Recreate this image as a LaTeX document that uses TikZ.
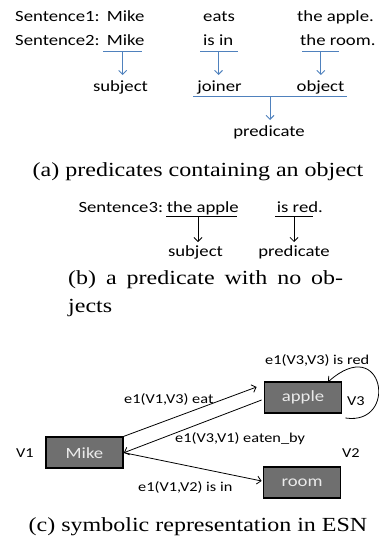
\documentclass[tikz,border=0pt]{standalone}
\usepackage{fontspec}
\usetikzlibrary{arrows.meta}
\newfontfamily\calfont[FakeStretch=1.2]{Carlito}
\newfontfamily\capfont[FakeStretch=1.2]{Liberation Serif}
\definecolor{officeblue}{HTML}{4F81BD}
\definecolor{boxgray}{HTML}{6F6F6F}
\tikzset{
  word/.style={inner sep=0pt, font=\calfont\fontsize{15.6}{18}\selectfont},
  lbl/.style={inner sep=0pt, font=\calfont\fontsize{13.6}{16}\selectfont},
  capt/.style={inner sep=0pt, font=\capfont\fontsize{20}{24}\selectfont},
  bluebar/.style={draw=officeblue, line width=0.9pt},
  bluearrow/.style={draw=officeblue, line width=0.9pt, -{Straight Barb[length=4pt,width=8pt]}},
  blackbar/.style={draw=black, line width=0.8pt},
  blackarrow/.style={draw=black, line width=0.8pt, -{Straight Barb[length=4pt,width=8pt]}},
  entity/.style={draw=black, line width=1.8pt, fill=boxgray, minimum width=77pt, minimum height=31pt,
    inner sep=0pt, text=white!92!black, font=\calfont\fontsize{15.6}{18}\selectfont},
}
\begin{document}
\begin{tikzpicture}[x=1pt, y=-1pt]
\useasboundingbox (0,0) rectangle (378,546);

% ---------- (a) predicates containing an object ----------
\node[word, anchor=base west] (s1) at (15,21.7) {Sentence1:};
\node[word, anchor=base west] (s1a) at (106.7,21.7) {Mike};
\node[word, anchor=base west] (s1b) at (203,21.7) {eats};
\node[word, anchor=base west] (s1c) at (297,21.7) {the apple.};
\node[word, anchor=base west] (s2) at (15,45) {Sentence2:};
\node[word, anchor=base west] (s2a) at (106.7,45) {Mike};
\node[word, anchor=base west] (s2b) at (203,45) {is in};
\node[word, anchor=base west] (s2c) at (300,45) {the room.};

\coordinate (ba1) at (103,51);  \coordinate (ba2) at (142,51);  \coordinate (bam) at (122.7,51);
\coordinate (bb1) at (200,51);  \coordinate (bb2) at (238,51);  \coordinate (bbm) at (218.5,51);
\coordinate (bc1) at (302,51);  \coordinate (bc2) at (339,51);  \coordinate (bcm) at (320.8,51);
\draw[bluebar] (ba1) -- (ba2);
\draw[bluebar] (bb1) -- (bb2);
\draw[bluebar] (bc1) -- (bc2);

\node[word, anchor=base] (subj) at (120.5,91.7) {subject};
\node[word, anchor=base] (join) at (219.5,91.7) {joiner};
\node[word, anchor=base] (obj) at (320.5,91.7) {object};
\coordinate (subjtop) at (122.7,75);
\coordinate (jointop) at (218.5,75);
\coordinate (objtop) at (320.8,75);
\draw[bluearrow] (bam) -- (subjtop);
\draw[bluearrow] (bbm) -- (jointop);
\draw[bluearrow] (bcm) -- (objtop);

\coordinate (pb1) at (193.3,96); \coordinate (pb2) at (346.7,96); \coordinate (pbm) at (270,96);
\draw[bluebar] (pb1) -- (pb2);
\node[word, anchor=base] (pred) at (269,136.7) {predicate};
\coordinate (predtop) at (270,120);
\draw[bluearrow] (pbm) -- (predtop);

\node[capt, anchor=base] (capa) at (198,176.7) {(a)~predicates containing an object};

% ---------- (b) a predicate with no objects ----------
\node[word, anchor=base west] (s3) at (78.3,212.7) {Sentence3:};
\node[word, anchor=base west] (s3a) at (166.7,212.7) {the apple};
\node[word, anchor=base west] (s3b) at (276.7,212.7) {is red.};
\coordinate (ca1) at (166,216); \coordinate (ca2) at (237,216); \coordinate (cam) at (198,216);
\coordinate (cb1) at (275,216); \coordinate (cb2) at (313,216); \coordinate (cbm) at (294,216);
\draw[blackbar] (ca1) -- (ca2);
\draw[blackbar] (cb1) -- (cb2);
\node[word, anchor=base] (subj3) at (195.5,256.7) {subject};
\node[word, anchor=base] (pred3) at (294,256.7) {predicate};
\coordinate (subj3top) at (198,242);
\coordinate (pred3top) at (294,242);
\draw[blackarrow] (cam) -- (subj3top);
\draw[blackarrow] (cbm) -- (pred3top);

\node[capt, anchor=base west] (capb1) at (68,284.5)
  {\makebox[275pt][s]{(b) a predicate with no ob-}};
\node[capt, anchor=base west] (capb2) at (68,312) {jects};

% ---------- (c) symbolic representation in ESN ----------
\node[entity] (mike) at (84.5,452.7) {Mike};
\node[entity] (apple) at (303,397.5) {apple};
\node[entity] (room) at (302,482.5) {room};

\node[lbl] (v1) at (25,453) {V1};
\node[lbl] (v3) at (356,401) {V3};
\node[lbl] (v2) at (351,453) {V2};

\draw[blackarrow] (mike.north east) -- ([shift={(-7,-10.5)}]apple.west);
\draw[blackarrow] ([shift={(-2,2.5)}]apple.west) -- (mike.east);
\draw[blackarrow] (mike.east) -- ([shift={(-1,-1.5)}]room.west);
% self-loop on apple
\draw[blackarrow] ([shift={(3,20.5)}]apple.east) .. controls (399,426) and (384,332) .. ([shift={(25,-15.5)}]apple.center);

\node[lbl, anchor=west] (leat) at (124,399) {e1(V1,V3) eat};
\node[lbl, anchor=west] (leby) at (175,439) {e1(V3,V1) eaten\_by};
\node[lbl, anchor=west] (lin) at (138,487) {e1(V1,V2) is in};
\node[lbl, anchor=west] (lred) at (265,360) {e1(V3,V3) is red};

\node[capt, anchor=base] (capc) at (198,531) {(c)~symbolic representation in ESN};
\end{tikzpicture}
\end{document}
